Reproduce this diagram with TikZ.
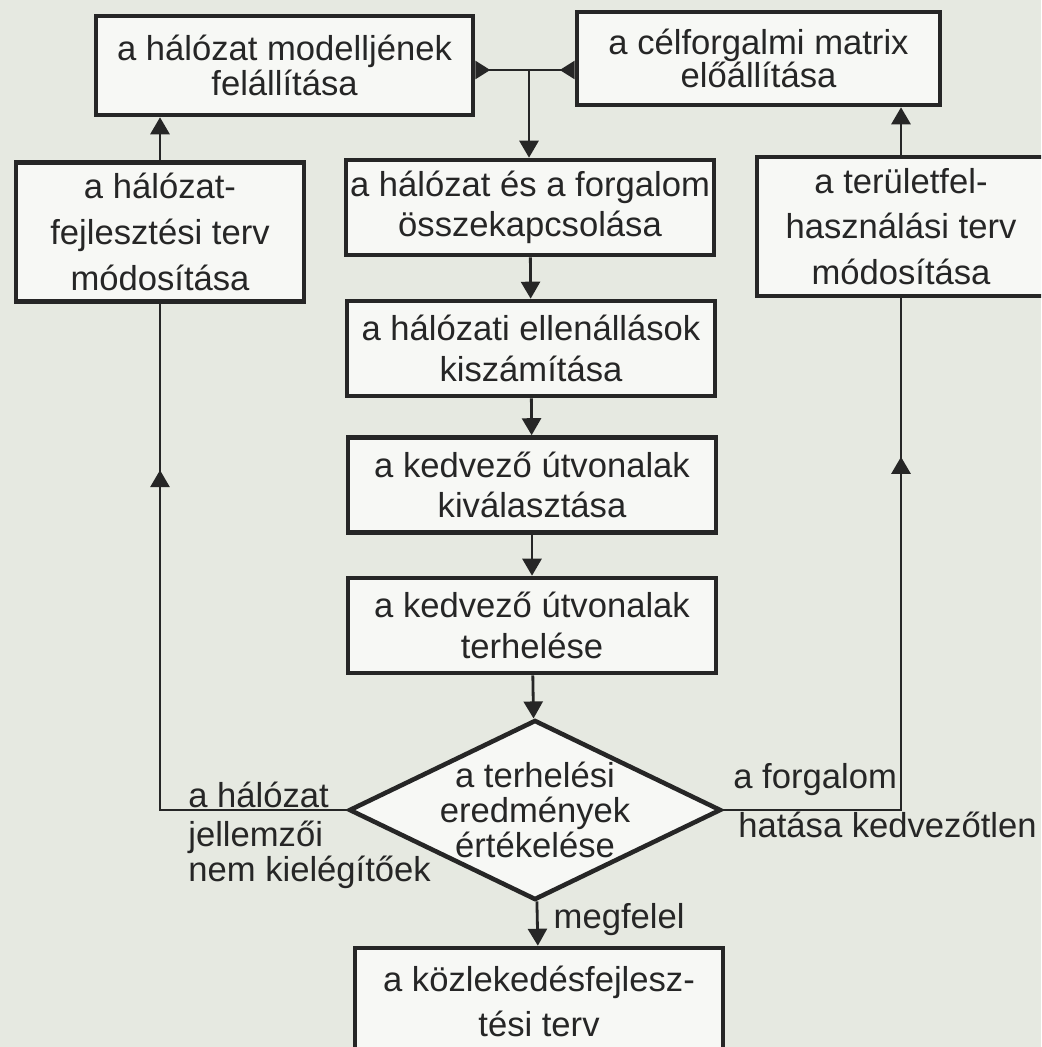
\documentclass[tikz,border=0pt]{standalone}
\usepackage{fontspec}
\setmainfont{Liberation Sans}
\usetikzlibrary{arrows.meta,shapes.geometric,decorations.markings}
\definecolor{paper}{RGB}{230,233,225}
\definecolor{boxfill}{RGB}{247,248,245}
\definecolor{ink}{RGB}{38,38,38}

\begin{document}
\begin{tikzpicture}[ink]
\tikzset{box/.style = {shape=rectangle,draw=ink,fill=boxfill,line width=2.6pt,align=center,inner sep=0pt,font=\fontsize{19.7}{23}\selectfont}}
\tikzset{sidebox/.style = {box,font=\fontsize{19.7}{26}\selectfont,minimum width=5.76cm,minimum height=2.78cm}}
\tikzset{stepbox/.style = {box,minimum width=7.36cm,minimum height=1.9cm}}
\tikzset{decision/.style = {shape=diamond,draw=ink,fill=boxfill,line width=2.6pt,inner sep=0pt,minimum width=7.44cm,minimum height=3.6cm}}
\tikzset{edge/.style = {line width=1.6pt,-{Triangle[length=0.34cm,width=0.38cm]}}}
\tikzset{flow/.style = {line width=1.6pt}}
\tikzset{tag/.style = {anchor=west,align=left,inner sep=0pt,font=\fontsize{19.7}{20}\selectfont}}
\tikzset{midarrow/.style = {flow,postaction={decorate},decoration={markings,mark=at position #1 with {\arrow{Triangle[length=0.34cm,width=0.38cm]}}}}}
\fill[paper] (0,0) rectangle (20.82,-20.94);
\useasboundingbox (0,0) rectangle (20.82,-20.94);
\clip (0,0) rectangle (20.82,-20.94);
% top row
\node[box,minimum width=7.54cm,minimum height=1.98cm,font=\fontsize{19.7}{20}\selectfont] (model) at (5.69,-1.31) {a hálózat modelljének\\felállítása};
\node[box,minimum width=7.26cm,minimum height=1.86cm,font=\fontsize{19.7}{19}\selectfont] (odmatrix) at (15.17,-1.17) {a célforgalmi matrix\\előállítása};
% side boxes
\node[sidebox] (netplan) at (3.2,-4.64) {a hálózat-\\fejlesztési terv\\módosítása};
\node[sidebox] (landplan) at (18.02,-4.53) {a területfel-\\használási terv\\módosítása};
% main column
\node[stepbox] (link) at (10.6,-4.15) {a hálózat és a forgalom\\összekapcsolása};
\node[stepbox] (resist) at (10.62,-6.97) {a hálózati ellenállások\\kiszámítása};
\node[stepbox] (route) at (10.64,-9.7) {a kedvező útvonalak\\kiválasztása};
\node[stepbox] (load) at (10.64,-12.51) {a kedvező útvonalak\\terhelése};
\node[decision] (eval) at (10.7,-16.2) {};
\node[align=center,font=\fontsize{19.7}{20}\selectfont] (evaltext) at (eval) {a terhelési\\eredmények\\értékelése};
\node[stepbox,minimum height=2.14cm,font=\fontsize{19.7}{26}\selectfont] (plan) at (10.78,-20.03) {a közlekedésfejlesz-\\tési terv};
% labels
\node[tag] (netbad) at (3.76,-15.9) {a hálózat};
\node[tag] (netbadb) at (3.76,-17.09) {jellemzői\\nem kielégítőek};
\node[tag] (flowbad) at (14.66,-15.6) {a forgalom};
\node[tag] (flowbadb) at (14.76,-16.5) {hatása kedvezőtlen};
\coordinate (join) at (10.58,-1.4);
\draw[flow,{Triangle[reversed,length=0.3cm,width=0.36cm]}-] (model.east |- join) -- (join);
\draw[flow,{Triangle[reversed,length=0.3cm,width=0.36cm]}-] (odmatrix.west |- join) -- (join);
\draw[edge] (join) -- (join |- link.north);
\draw[edge] (link) -- (resist);
\draw[edge] (resist) -- (route);
\draw[edge] (route) -- (load);
\draw[edge] (load) -- (eval);
\draw[edge] (eval) -- node[tag,pos=0.4,xshift=0.3cm] (ok) {megfelel} (plan);
\draw[edge] (netplan.north) -- (netplan.north |- model.south);
\draw[edge] (landplan.north) -- (landplan.north |- odmatrix.south);
\draw[midarrow=0.76] (eval.west) -| (netplan.south);
\draw[midarrow=0.77] (eval.east) -| (landplan.south);
\end{tikzpicture}
\end{document}
